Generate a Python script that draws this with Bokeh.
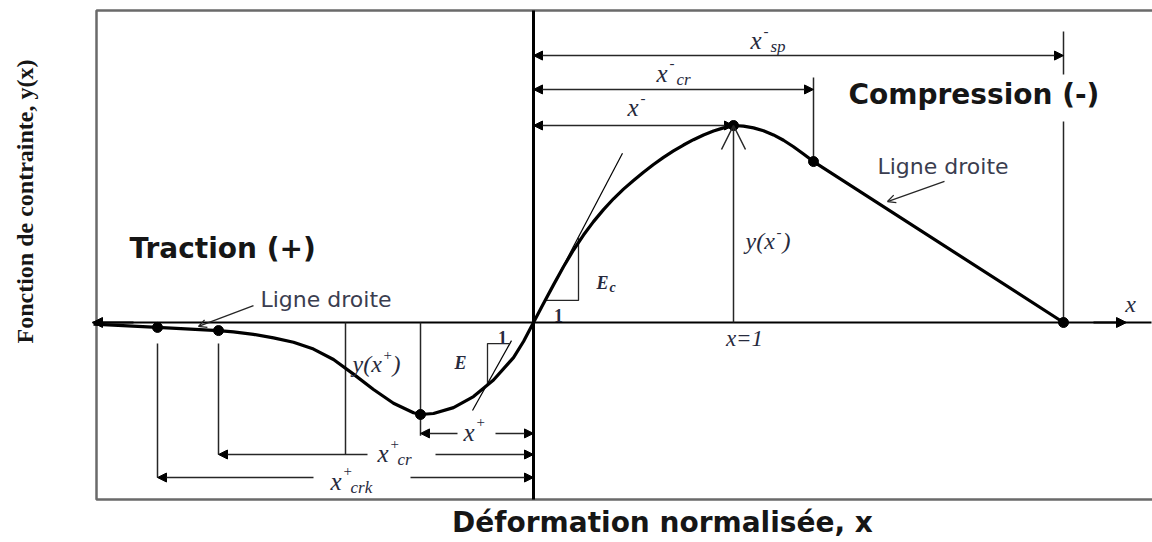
import math
from bokeh.plotting import figure
from bokeh.models import ColumnDataSource, Range1d, Arrow, NormalHead, OpenHead
from bokeh.core.properties import value
from bokeh.embed import file_html
from bokeh.resources import INLINE

# ---------------------------------------------------------------------------
# Stress function y(x) against normalised strain x
# compression branch (x >= 0): rising curve to the peak, then a straight line
comp_x = [0.00, 0.05, 0.10, 0.15, 0.20, 0.25, 0.30, 0.35, 0.40, 0.45, 0.50,
          0.55, 0.60, 0.65, 0.70, 0.75, 0.80, 0.85, 0.90, 0.95, 1.00,
          1.05, 1.10, 1.15, 1.20, 1.25, 1.30, 1.35, 1.40, 2.65]
comp_y = [0.000, 0.096, 0.191, 0.283, 0.368, 0.444, 0.512, 0.573, 0.628, 0.677, 0.721,
          0.763, 0.802, 0.838, 0.871, 0.901, 0.928, 0.952, 0.972, 0.988, 1.000,
          0.997, 0.988, 0.973, 0.952, 0.925, 0.892, 0.855, 0.817, 0.000]

# tension branch (x <= 0): trough, softening tail and straight end
tens_x = [-2.20, -1.88, -1.575, -1.50, -1.40, -1.30, -1.20, -1.10, -1.00, -0.90, -0.80,
          -0.70, -0.60, -0.565, -0.50, -0.40, -0.30, -0.20, -0.10, -0.05, 0.00]
tens_y = [-0.008, -0.025, -0.041, -0.048, -0.060, -0.078, -0.100, -0.135, -0.188, -0.262, -0.340,
          -0.410, -0.458, -0.467, -0.462, -0.432, -0.376, -0.292, -0.178, -0.0965, 0.000]

# characteristic points (marked with dots)
key_names = ["x+crk", "x+cr", "x+", "x-", "x-cr", "x-sp"]
key_x = [-1.88, -1.575, -0.565, 1.00, 1.40, 2.65]
key_y = [-0.025, -0.041, -0.467, 1.00, 0.817, 0.000]
X_CRK_T, X_CR_T, X_PK_T, X_PK_C, X_CR_C, X_SP_C = key_x
Y_CRK_T, Y_CR_T, Y_PK_T, Y_PK_C, Y_CR_C, Y_SP_C = key_y

# initial tangent slopes
E_C = 1.93
E_T = 1.82

# ---------------------------------------------------------------------------
W, H = 1152, 542
ORIGIN = (533, 322)          # pixel position of (0, 0)
SX, SY = 200.0, 197.0        # pixels per unit

INK = "#000000"
THIN = "#262626"
NOTE = "#272a3d"
TITLE = "#161616"
SERIF = "Liberation Serif"
SANS = "DejaVu Sans"

p = figure(width=W, height=H,
           x_range=Range1d(-ORIGIN[0] / SX, (W - ORIGIN[0]) / SX),
           y_range=Range1d(-(H - ORIGIN[1]) / SY, ORIGIN[1] / SY),
           x_axis_location=None, y_axis_location=None,
           toolbar_location=None, output_backend="svg", min_border=0,
           outline_line_color=None, background_fill_color="white",
           border_fill_color="white")
p.grid.visible = False

# surrounding box
BOX_L, BOX_R, BOX_T, BOX_B = -2.185, 3.105, 1.584, -0.898
p.quad(left=[BOX_L], right=[BOX_R], top=[BOX_T], bottom=[BOX_B],
       fill_color=None, line_color="#6a6a6a", line_width=2.5)

# axes through the origin
p.segment(x0=[-2.205], y0=[0], x1=[3.09], y1=[0], line_color=INK, line_width=2)
p.segment(x0=[0], y0=[BOX_T], x1=[0], y1=[BOX_B], line_color=INK, line_width=3)


def head(size=9):
    return NormalHead(size=size, fill_color=INK, line_color=INK, line_width=1)


p.add_layout(Arrow(end=head(10), x_start=-2.0, y_start=0, x_end=-2.205, y_end=0,
                   line_color=INK, line_width=2))
p.add_layout(Arrow(end=head(10), x_start=2.8, y_start=0, x_end=2.965, y_end=0,
                   line_color=INK, line_width=2))

# extension lines of the dimensions
p.segment(x0=[X_CR_C, X_SP_C, X_SP_C, X_PK_T, -0.94, X_CR_T, X_CRK_T],
          y0=[1.244, 1.477, 1.020, 0.0, 0.0, -0.107, -0.107],
          x1=[X_CR_C, X_SP_C, X_SP_C, X_PK_T, -0.94, X_CR_T, X_CRK_T],
          y1=[Y_CR_C, 1.259, 0.0, -0.575, -0.670, -0.670, -0.787],
          line_color=THIN, line_width=1.5)

# compression dimensions (double headed)
DIM_C = [1.355, 1.183, Y_PK_C]
comp_dims = ColumnDataSource(dict(x0=[0.0, 0.0, 0.0], x1=[X_SP_C, X_CR_C, X_PK_C],
                                  y0=DIM_C, y1=DIM_C))
p.add_layout(Arrow(start=head(), end=head(), source=comp_dims,
                   x_start="x0", y_start="y0", x_end="x1", y_end="y1",
                   line_color=THIN, line_width=1.5))

# tension dimensions (split around their labels)
DIM_T = [-0.563, -0.670, -0.787]
tens_dims = ColumnDataSource(dict(
    x0=[-0.38, -0.19, -0.83, -0.49, -1.10, -0.615],
    x1=[X_PK_T, 0.0, X_CR_T, 0.0, X_CRK_T, 0.0],
    y0=[DIM_T[0]] * 2 + [DIM_T[1]] * 2 + [DIM_T[2]] * 2,
    y1=[DIM_T[0]] * 2 + [DIM_T[1]] * 2 + [DIM_T[2]] * 2))
p.add_layout(Arrow(end=head(), source=tens_dims,
                   x_start="x0", y_start="y0", x_end="x1", y_end="y1",
                   line_color=THIN, line_width=1.5))

# peak ordinate y(x-)
p.add_layout(Arrow(end=OpenHead(size=24, line_color=THIN, line_width=1.5),
                   x_start=X_PK_C, y_start=0, x_end=X_PK_C, y_end=Y_PK_C,
                   line_color=THIN, line_width=1.5))

# tangents and slope triangles
tc = [0.0, 0.445]
p.line(tc, [E_C * v for v in tc], line_color=INK, line_width=1.2)
p.line([0.058, 0.225, 0.225], [0.112, 0.112, E_C * 0.225], line_color=THIN, line_width=1.3)
tt = [-0.305, -0.11]
p.line(tt, [Y_PK_T + 0.02 + E_T * (v + 0.305) for v in tt], line_color=INK, line_width=1.2)
p.line([-0.118, -0.23, -0.23], [-0.107, -0.107, -0.31], line_color=THIN, line_width=1.3)

# the stress-function curve
p.line(tens_x, tens_y, line_color=INK, line_width=3.2, line_join="round")
p.line(comp_x, comp_y, line_color=INK, line_width=3.2, line_join="round")
p.scatter(key_x, key_y, size=10, color=INK)

# "Ligne droite" pointers
p.add_layout(Arrow(end=OpenHead(size=8, line_color=THIN, line_width=1.3),
                   x_start=2.055, y_start=0.716, x_end=1.77, y_end=0.614,
                   line_color=THIN, line_width=1.3))
p.add_layout(Arrow(end=OpenHead(size=8, line_color=THIN, line_width=1.3),
                   x_start=-1.40, y_start=0.086, x_end=-1.675, y_end=-0.02,
                   line_color=THIN, line_width=1.3))


def txt(x, y, s, size, font=SERIF, style="normal", color=NOTE, align="left",
        baseline="middle", dx=0, dy=0, angle=0.0):
    p.text(x=[x], y=[y], text=[s], text_font=value(font), text_font_style=style,
           text_font_size=f"{size}px", text_color=color, text_align=align,
           text_baseline=baseline, x_offset=dx, y_offset=dy, angle=angle)


def strain(x, y, sup, sub="", size=25):
    txt(x, y, "x", size, style="italic")
    txt(x, y, sup, 15, dx=13, dy=-10)
    if sub:
        txt(x, y, sub, 17, style="italic", dx=20, dy=6)


# dimension symbols
strain(1.085, 1.431, "-", "sp")
strain(0.615, 1.264, "-", "cr")
strain(0.470, 1.091, "-")
strain(-0.350, -0.558, "+")
strain(-0.780, -0.665, "+", "cr")
strain(-1.015, -0.807, "+", "crk")

# ordinates
txt(1.06, 0.416, "y(x", 24, style="italic")
txt(1.06, 0.416, "-", 15, dx=31, dy=-9)
txt(1.06, 0.416, ")", 24, style="italic", dx=37)
txt(-0.905, -0.213, "y(x", 24, style="italic")
txt(-0.905, -0.213, "+", 15, dx=31, dy=-9)
txt(-0.905, -0.213, ")", 24, style="italic", dx=40)

txt(X_PK_C + 0.055, -0.081, "x=1", 23, style="italic", align="center")
txt(2.985, 0.096, "x", 24, style="italic", align="center")

# slope annotations
txt(0.315, 0.203, "E", 18, style="bold italic")
txt(0.315, 0.203, "c", 14, style="bold italic", dx=13, dy=5)
txt(0.125, 0.036, "1", 18, style="bold", align="center")
txt(-0.365, -0.208, "E", 18, style="bold italic", align="center")
txt(-0.155, -0.076, "1", 18, style="bold", align="center")

# region captions
txt(1.575, 1.157, "Compression (-)", 28, font=SANS, style="bold", color=TITLE)
txt(-2.02, 0.376, "Traction (+)", 28, font=SANS, style="bold", color=TITLE)
txt(1.72, 0.792, "Ligne droite", 22, font=SANS, color="#3a3d4f")
txt(-1.365, 0.117, "Ligne droite", 22, font=SANS, color="#3a3d4f")

# axis titles
txt(0.645, -1.015, "Déformation normalisée, x", 28, font=SANS, style="bold",
    color=TITLE, align="center")
txt(-2.545, 0.614, "Fonction de contrainte, y(x)", 24, font=SERIF, style="bold",
    color=TITLE, align="center", angle=math.pi / 2)

open("out.html", "w").write(file_html(p, INLINE))
